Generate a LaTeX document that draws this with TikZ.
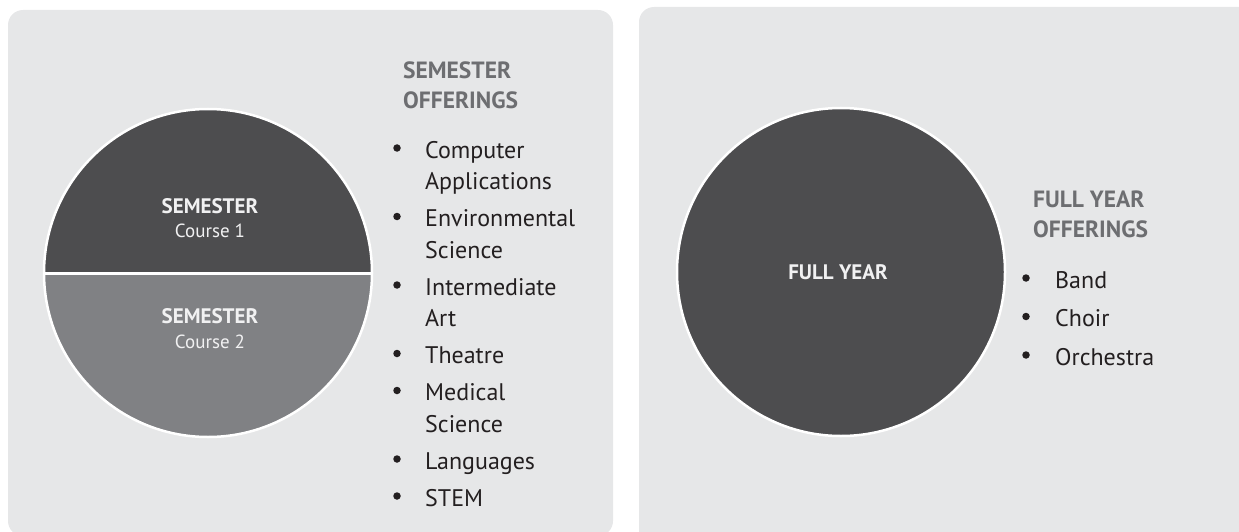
\documentclass[tikz,border=0pt]{standalone}
\usepackage{fontspec}
\setmainfont{PT Sans}
\usepackage{tikz}
\usetikzlibrary{calc}

\definecolor{panelgray}{HTML}{E6E7E8}
\definecolor{darkdisc}{HTML}{4D4D4F}
\definecolor{lightdisc}{HTML}{808184}
\definecolor{headgray}{HTML}{6D6E71}
\definecolor{bodytext}{HTML}{231F20}
\definecolor{disctext}{HTML}{F1F1F2}

\begin{document}
\begin{tikzpicture}[x=1pt,y=-1pt,
    item/.style={anchor=base west,inner sep=0pt,text=bodytext,font=\fontsize{24}{28}\selectfont},
    heading/.style={anchor=base west,inner sep=0pt,text=headgray,font=\fontsize{23.5}{28}\selectfont\bfseries},
    dot/.style={circle,fill=bodytext,inner sep=0pt,minimum size=7.5pt},
    disctitle/.style={anchor=base,inner sep=0pt,text=disctext,font=\fontsize{21}{26}\selectfont\bfseries},
    disclabel/.style={anchor=base,inner sep=0pt,text=disctext,font=\fontsize{19}{22}\selectfont}]
  \useasboundingbox (0,0) rectangle (1239,532);
  \clip (0,0) rectangle (1239,532);

  %% Background panels
  \fill[panelgray,rounded corners=15pt] (8,10) rectangle (613,536);
  \fill[panelgray,rounded corners=15pt] (639,7) rectangle (1254,547);

  %% Semester disc, split into two halves
  \coordinate (SC) at (208,273);
  \fill[darkdisc] (SC) circle[radius=164];
  \begin{scope}
    \clip (0,273) rectangle (620,532);
    \fill[lightdisc] (SC) circle[radius=164];
  \end{scope}
  \draw[white,line width=3pt] ($(SC)+(-164,0)$) -- ($(SC)+(164,0)$);
  \draw[white,line width=2.5pt] (SC) circle[radius=164];

  \node[disctitle] (SEM1) at (210,213) {SEMESTER};
  \node[disclabel] (C1) at (210,237) {Course 1};
  \node[disctitle] (SEM2) at (210,323) {SEMESTER};
  \node[disclabel] (C2) at (210,348) {Course 2};

  %% Full year disc
  \coordinate (FC) at (841,272);
  \fill[darkdisc] (FC) circle[radius=164];
  \draw[white,line width=2.5pt] (FC) circle[radius=164];
  \node[disctitle] (FULL) at (838,279) {FULL YEAR};

  %% Semester offerings list
  \node[heading] (SOHEAD) at (403,79) {SEMESTER};
  \node[heading] (SOHEAD2) at (403,109) {OFFERINGS};
  \foreach \n/\y/\txt in {1/158/Computer, 2/189.5/Applications, 3/226.5/Environmental,
      4/258/Science, 5/295/Intermediate, 6/326.5/Art, 7/363.5/Theatre,
      8/400.5/Medical, 9/432/Science, 10/469/Languages, 11/506/STEM}
  {
    \node[item] (SO\n) at (425,\y) {\txt};
  }
  \foreach \n in {1,3,5,7,8,10,11}
  {
    \node[dot] (SB\n) at ($(SO\n.base west)+(-28,-10)$) {};
  }

  %% Full year offerings list
  \node[heading] (FOHEAD) at (1033,207) {FULL YEAR};
  \node[heading] (FOHEAD2) at (1033,237) {OFFERINGS};
  \foreach \n/\y/\txt in {1/288/Band, 2/326.5/Choir, 3/365/Orchestra}
  {
    \node[item] (FO\n) at (1055,\y) {\txt};
    \node[dot] (FB\n) at ($(FO\n.base west)+(-29,-10)$) {};
  }
\end{tikzpicture}
\end{document}
